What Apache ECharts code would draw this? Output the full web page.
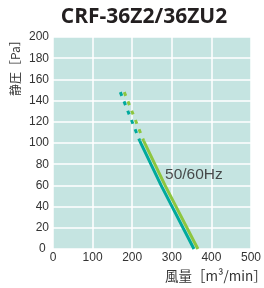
<!DOCTYPE html>
<html><head><meta charset="utf-8">
<script src="https://cdn.jsdelivr.net/npm/echarts@6/dist/echarts.min.js"></script>
<style>html,body{margin:0;padding:0;background:#fff}#c{width:264px;height:288px}</style>
</head><body><div id="c"></div>
<script>
const titleText = 'CRF-36Z2/36ZU2';
const xTicks = [0, 500, 100];
const yTicks = [0, 200, 20];
const teal50Dotted = [[170, 148], [219, 102]];
const teal50Solid = [[219, 102], [273, 60], [356, 0]];
const green60Dotted = [[180, 148], [229, 102]];
const green60Solid = [[229, 102], [283, 60], [366, 0]];
const hzLabel = [[283, 70]];
const hzText = '50/60Hz';
const xName = '風量［m³/min］';
const yName = '静圧［Pa］';

const chart = echarts.init(document.getElementById('c'));
const font = "'Liberation Sans', Arial, sans-serif";
chart.setOption({
  animation: false,
  title: { text: titleText, left: 139, textAlign: 'center', top: 2,
    textStyle: { fontFamily: "'Open Sans', sans-serif", fontWeight: 'bold', fontSize: 21, color: '#231f20' } },
  grid: { left: 53, right: 9, top: 37, bottom: 39, show: true, backgroundColor: '#c5e4e1', borderWidth: 0 },
  xAxis: { type: 'value', min: xTicks[0], max: xTicks[1], interval: xTicks[2],
    axisLine: { show: false }, axisTick: { show: false },
    splitLine: { lineStyle: { color: '#ffffff', width: 1.5 } },
    axisLabel: { fontFamily: font, fontSize: 12, color: '#333', margin: 3 } },
  yAxis: { type: 'value', min: yTicks[0], max: yTicks[1], interval: yTicks[2],
    axisLine: { show: false }, axisTick: { show: false },
    splitLine: { lineStyle: { color: '#ffffff', width: 1.5 } },
    axisLabel: { fontFamily: font, fontSize: 12, color: '#333', margin: 4,
      formatter: v => v === 0 ? '0 ' : v } },
  graphic: [
    { type: 'text', x: 165, y: 269, style: { text: xName, font: "13.5px 'Noto Sans CJK JP', sans-serif", fill: '#333' } },
    { type: 'text', x: 9, y: 96, rotation: Math.PI / 2, style: { text: yName, font: "12px 'Noto Sans CJK JP', sans-serif", fill: '#333', textAlign: 'left', textVerticalAlign: 'top' } }
  ],
  series: [
    { type: 'line', data: teal50Dotted, symbol: 'none', lineStyle: { color: '#00a99d', width: 3, type: [4, 6] } },
    { type: 'line', data: green60Dotted, symbol: 'none', lineStyle: { color: '#8dc63f', width: 3, type: [4, 6] } },
    { type: 'line', data: green60Solid, symbol: 'none', lineStyle: { color: '#8dc63f', width: 3 } },
    { type: 'line', data: teal50Solid, symbol: 'none', lineStyle: { color: '#00a99d', width: 3 } },
    { type: 'scatter', data: hzLabel, symbolSize: 0,
      label: { show: true, position: 'right', distance: 0, formatter: hzText,
        fontFamily: font, fontSize: 15.5, color: '#231f20' } }
  ]
});
</script></body></html>
